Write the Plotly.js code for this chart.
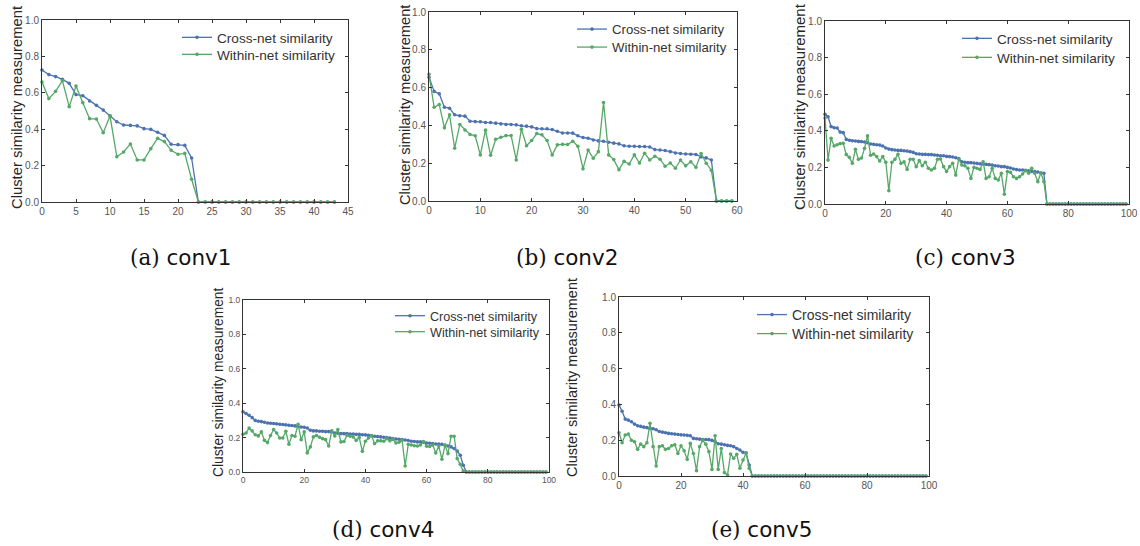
<!DOCTYPE html>
<html>
<head>
<meta charset="utf-8">
<script src="https://cdn.plot.ly/plotly-3.0.1.min.js"></script>
<style>html,body{margin:0;padding:0;background:#fff;}#chart{width:1140px;height:546px;}</style>
</head>
<body>
<div id="chart"></div>
<script>
// ---------- data ----------
const seriesNames = ["Cross-net similarity", "Within-net similarity"];
const panelCaptions = ["(a)|conv1", "(b)|conv2", "(c)|conv3", "(d)|conv4", "(e)|conv5"];
const yTitle = "Cluster similarity measurement";

const conv1Cross = [0.725,0.70,0.689,0.674,0.652,0.59,0.584,0.555,0.531,0.505,
  0.473,0.441,0.423,0.421,0.418,0.403,0.399,0.383,0.366,0.317,
  0.315,0.311,0.242,0,0,0,0,0,0,0,
  0,0,0,0,0,0,0,0,0,0,
  0,0,0,0];
const conv1Within = [0.659,0.568,0.608,0.667,0.524,0.637,0.546,0.458,0.456,0.381,
  0.473,0.249,0.275,0.319,0.231,0.231,0.293,0.350,0.332,0.284,
  0.262,0.267,0.125,0,0,0,0,0,0,0,
  0,0,0,0,0,0,0,0,0,0,
  0,0,0,0];

const conv2Cross = [0.655,0.58,0.567,0.496,0.491,0.456,0.451,0.449,0.422,0.42,
  0.419,0.415,0.415,0.412,0.408,0.405,0.405,0.403,0.398,0.396,
  0.392,0.383,0.382,0.382,0.378,0.369,0.36,0.36,0.359,0.345,
  0.336,0.332,0.323,0.318,0.316,0.311,0.306,0.302,0.292,0.29,
  0.29,0.288,0.288,0.286,0.272,0.27,0.267,0.261,0.254,0.251,
  0.249,0.247,0.246,0.233,0.228,0.217,0,0,0,0];
const conv2Within = [0.67,0.496,0.51,0.387,0.456,0.279,0.405,0.376,0.352,0.345,
  0.244,0.375,0.242,0.327,0.337,0.346,0.346,0.217,0.38,0.292,
  0.32,0.357,0.35,0.32,0.244,0.297,0.30,0.299,0.316,0.29,
  0.17,0.27,0.226,0.261,0.521,0.244,0.219,0.166,0.21,0.196,
  0.244,0.201,0.253,0.217,0.237,0.221,0.184,0.201,0.173,0.217,
  0.186,0.208,0.178,0.251,0.2,0.163,0,0,0,0];

const conv3Cross = [0.49,0.477,0.423,0.417,0.415,0.393,0.39,0.353,0.348,0.346,
  0.344,0.342,0.341,0.339,0.335,0.328,0.326,0.324,0.322,0.317,
  0.306,0.30,0.297,0.295,0.293,0.293,0.291,0.29,0.286,0.282,
  0.275,0.273,0.271,0.271,0.27,0.27,0.268,0.266,0.264,0.264,
  0.26,0.259,0.257,0.253,0.248,0.231,0.228,0.226,0.226,0.224,
  0.222,0.22,0.219,0.217,0.215,0.213,0.209,0.208,0.204,0.204,
  0.2,0.197,0.191,0.188,0.186,0.186,0.184,0.182,0.178,0.177,
  0.175,0.169,0.168,0,0,0,0,0,0,0,
  0,0,0,0,0,0,0,0,0,0,
  0,0,0,0,0,0,0,0,0,0];
const conv3Within = [0.47,0.24,0.359,0.317,0.324,0.33,0.332,0.27,0.255,0.222,
  0.299,0.244,0.251,0.304,0.372,0.266,0.273,0.259,0.235,0.259,
  0.228,0.073,0.228,0.244,0.271,0.222,0.23,0.189,0.244,0.244,
  0.204,0.237,0.209,0.228,0.195,0.186,0.195,0.244,0.246,0.204,
  0.178,0.204,0.222,0.158,0.246,0.213,0.209,0.195,0.14,0.2,
  0.195,0.189,0.231,0.14,0.149,0.195,0.14,0.131,0.168,0.053,
  0.177,0.173,0.149,0.14,0.149,0.164,0.182,0.168,0.195,0.168,
  0.122,0.171,0.122,0,0,0,0,0,0,0,
  0,0,0,0,0,0,0,0,0,0,
  0,0,0,0,0,0,0,0,0,0];

const conv4Cross = [0.35,0.34,0.33,0.316,0.30,0.295,0.293,0.289,0.285,0.283,
  0.282,0.28,0.278,0.276,0.274,0.272,0.27,0.268,0.264,0.262,
  0.26,0.256,0.243,0.239,0.239,0.237,0.237,0.235,0.235,0.233,
  0.227,0.225,0.223,0.223,0.223,0.221,0.221,0.219,0.219,0.217,
  0.216,0.214,0.21,0.208,0.206,0.204,0.202,0.2,0.198,0.194,
  0.192,0.19,0.188,0.186,0.183,0.179,0.177,0.175,0.175,0.173,
  0.169,0.167,0.165,0.163,0.163,0.161,0.157,0.151,0.146,0.136,
  0.122,0.097,0.039,0,0,0,0,0,0,0,
  0,0,0,0,0,0,0,0,0,0,
  0,0,0,0,0,0,0,0,0,0];
const conv4Within = [0.219,0.227,0.256,0.239,0.217,0.21,0.233,0.184,0.171,0.212,
  0.247,0.227,0.198,0.198,0.237,0.161,0.212,0.208,0.278,0.188,
  0.233,0.111,0.146,0.204,0.212,0.202,0.194,0.188,0.151,0.239,
  0.21,0.247,0.175,0.177,0.214,0.208,0.204,0.184,0.2,0.12,
  0.179,0.198,0.212,0.165,0.181,0.181,0.179,0.194,0.181,0.19,
  0.169,0.173,0.184,0.035,0.161,0.157,0.153,0.151,0.157,0.177,
  0.15,0.148,0.157,0.111,0.151,0.074,0.155,0.107,0.208,0.208,
  0.078,0.045,0.005,0,0,0,0,0,0,0,
  0,0,0,0,0,0,0,0,0,0,
  0,0,0,0,0,0,0,0,0,0];

const conv5Cross = [0.396,0.362,0.318,0.312,0.303,0.29,0.281,0.277,0.273,0.27,
  0.266,0.264,0.258,0.249,0.245,0.242,0.238,0.236,0.234,0.232,
  0.23,0.229,0.227,0.225,0.21,0.208,0.206,0.204,0.204,0.203,
  0.199,0.193,0.18,0.178,0.175,0.171,0.169,0.164,0.154,0.145,
  0.132,0.128,0.061,0,0,0,0,0,0,0,
  0,0,0,0,0,0,0,0,0,0,
  0,0,0,0,0,0,0,0,0,0,
  0,0,0,0,0,0,0,0,0,0,
  0,0,0,0,0,0,0,0,0,0,
  0,0,0,0,0,0,0,0,0,0];
const conv5Within = [0.242,0.186,0.229,0.234,0.2,0.191,0.149,0.178,0.164,0.186,
  0.294,0.164,0.056,0.164,0.169,0.149,0.154,0.169,0.175,0.126,
  0.169,0.141,0.093,0.182,0.126,0.03,0.164,0.199,0.178,0.136,
  0.037,0.225,0.037,0.154,0.019,0.006,0.123,0.099,0.121,0.043,
  0.089,0.13,0.043,0,0,0,0,0,0,0,
  0,0,0,0,0,0,0,0,0,0,
  0,0,0,0,0,0,0,0,0,0,
  0,0,0,0,0,0,0,0,0,0,
  0,0,0,0,0,0,0,0,0,0,
  0,0,0,0,0,0,0,0,0,0];

const xMax = [45, 60, 100, 100, 100];
const xStep = [5, 10, 20, 20, 20];
const yTicks = [0, 0.2, 0.4, 0.6, 0.8, 1.0];

// ---------- layout geometry (pixels in the 1140x546 page) ----------
const W = 1140, H = 546;
const panels = [
  {cross: conv1Cross, within: conv1Within, box: [42, 348, 20, 202],  tick: 10,  ttl: {x: 17,  y: 108, s: 14.8}, leg: {x: 182, rows: [38, 55],   s: 13.6}, cap: {x: 180, y: 257}},
  {cross: conv2Cross, within: conv2Within, box: [429, 737, 12, 201], tick: 10,  ttl: {x: 405, y: 105, s: 14.6}, leg: {x: 577, rows: [30, 48],   s: 13.2}, cap: {x: 567, y: 257}},
  {cross: conv3Cross, within: conv3Within, box: [825, 1129, 21, 204],tick: 10,  ttl: {x: 800, y: 107, s: 15.0}, leg: {x: 962, rows: [39, 58],   s: 13.6}, cap: {x: 965, y: 257}},
  {cross: conv4Cross, within: conv4Within, box: [243, 549, 300, 472],tick: 8.5, ttl: {x: 218, y: 382, s: 13.8}, leg: {x: 395, rows: [317, 333], s: 12.6}, cap: {x: 383, y: 529}},
  {cross: conv5Cross, within: conv5Within, box: [619, 929, 297, 476],tick: 10,  ttl: {x: 572, y: 378, s: 14.5}, leg: {x: 757, rows: [315, 334], s: 14.0}, cap: {x: 761, y: 529}}
];

const blue = '#4c72b0', green = '#55a868';
const frame = '#333333';
const sans = 'Liberation Sans, Arial, sans-serif';

const data = [];
const layout = {
  width: W, height: H,
  margin: {l: 0, r: 0, t: 0, b: 0, pad: 0},
  paper_bgcolor: '#ffffff', plot_bgcolor: '#ffffff',
  showlegend: true,
  annotations: [],
  font: {family: sans, color: '#333'}
};

let legCount = 0;
panels.forEach((p, i) => {
  const n = i + 1;
  const xa = 'x' + (n === 1 ? '' : n), ya = 'y' + (n === 1 ? '' : n);
  const xKey = 'xaxis' + (n === 1 ? '' : n), yKey = 'yaxis' + (n === 1 ? '' : n);
  const xs = p.cross.map((_, k) => k);
  [[p.cross, blue, seriesNames[0]], [p.within, green, seriesNames[1]]].forEach(([vals, col, nm], j) => {
    legCount += 1;
    const legKey = 'legend' + (legCount === 1 ? '' : legCount);
    data.push({
      type: 'scatter', mode: 'lines+markers', name: nm,
      x: xs, y: vals, xaxis: xa, yaxis: ya, legend: legKey,
      line: {color: col, width: 1.3},
      marker: {color: col, size: 3.6, line: {width: 0}},
      hoverinfo: 'skip', cliponaxis: false
    });
    layout[legKey] = {
      x: (p.leg.x - 5) / W, y: 1 - (p.leg.rows[j] - 16) / H,
      xanchor: 'left', yanchor: 'top', bgcolor: 'rgba(0,0,0,0)', borderwidth: 0,
      font: {family: sans, size: p.leg.s, color: '#333'}, itemwidth: 30, tracegroupgap: 0
    };
  });
  const [l, r, t, b] = p.box;
  const common = {
    showline: true, linecolor: frame, linewidth: 1, mirror: 'ticks',
    ticks: 'inside', ticklen: 3, tickcolor: frame, tickwidth: 1,
    showgrid: false, zeroline: false, fixedrange: true,
    tickfont: {family: sans, size: p.tick, color: '#555'}
  };
  layout[xKey] = Object.assign({}, common, {
    domain: [l / W, r / W], range: [0, xMax[i]], anchor: ya,
    tickmode: 'linear', tick0: 0, dtick: xStep[i]
  });
  layout[yKey] = Object.assign({}, common, {
    domain: [1 - b / H, 1 - t / H], range: [0, 1], anchor: xa,
    tickmode: 'array', tickvals: yTicks, ticktext: yTicks.map(v => v.toFixed(1))
  });
  layout.annotations.push({
    xref: 'paper', yref: 'paper', x: p.ttl.x / W, y: 1 - p.ttl.y / H,
    text: yTitle, textangle: -90, showarrow: false, xanchor: 'center', yanchor: 'middle',
    font: {family: sans, size: p.ttl.s, color: '#262626'}
  });
  const [lab, nameTxt] = panelCaptions[i].split('|');
  layout.annotations.push({
    xref: 'paper', yref: 'paper', x: p.cap.x / W, y: 1 - p.cap.y / H,
    text: '<span style="font-family:DejaVu Serif">' + lab + '</span> ' + nameTxt,
    showarrow: false, xanchor: 'center', yanchor: 'middle',
    font: {family: 'DejaVu Sans', size: 21.5, color: '#111'}
  });
});

Plotly.newPlot('chart', data, layout, {staticPlot: true, displayModeBar: false});
</script>
</body>
</html>
